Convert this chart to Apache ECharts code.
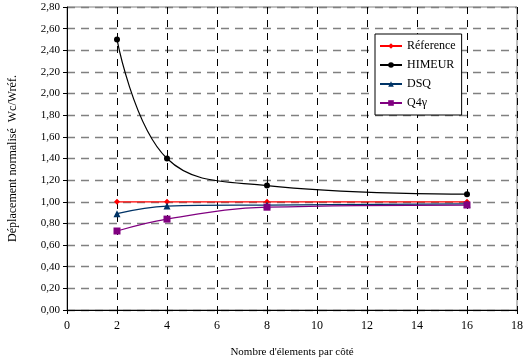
<!DOCTYPE html>
<html><head><meta charset="utf-8">
<script src="https://cdn.jsdelivr.net/npm/echarts@6/dist/echarts.min.js"></script>
<style>html,body{margin:0;padding:0;background:#fff}#c{width:526px;height:364px}</style>
</head><body><div id="c"></div>
<script>
const xValues = [2, 4, 8, 16];
const reference = [1.00, 1.00, 1.00, 1.00];
const himeur = [2.50, 1.40, 1.15, 1.07];
const dsq = [0.89, 0.96, 0.97, 0.98];
const q4g = [0.73, 0.84, 0.95, 0.97];
const seriesNames = ['Réference', 'HIMEUR', 'DSQ', 'Q4γ'];

const font = 'Liberation Serif';
function pts(v){ return xValues.map((x,i)=>[x, v[i]]); }
const chart = echarts.init(document.getElementById('c'));
function mk(name, data, color, symbol, size){
  return {name, type:'line', data: pts(data), smooth: 0.4, symbol, symbolSize: size,
    lineStyle:{color, width:1.2}, itemStyle:{color}, emphasis:{disabled:true}};
}
chart.setOption({
  animation:false,
  textStyle:{fontFamily:font},
  grid:{left:67, right:9, top:7, bottom:54, show:true, borderColor:'#808080', borderWidth:1,
    outerBoundsMode:'none', containLabel:false},
  legend:{
    orient:'vertical', left:375, top:34, itemWidth:22, itemHeight:7, itemGap:7,
    backgroundColor:'#fff', borderColor:'#000', borderWidth:1, padding:[6,6,6,4],
    textStyle:{fontFamily:font, fontSize:12, color:'#000'},
    data: seriesNames.map(n=>({name:n}))
  },
  xAxis:{
    type:'value', min:0, max:18, interval:2,
    name:"Nombre d'élements par côté", nameLocation:'middle', nameGap:37,
    nameTextStyle:{fontFamily:font, fontSize:11, color:'#000'},
    axisLine:{onZero:false, lineStyle:{color:'#000'}},
    axisTick:{show:true, length:4, lineStyle:{color:'#000'}},
    axisLabel:{fontFamily:font, fontSize:12, color:'#000', margin:10},
    splitLine:{show:true, lineStyle:{color:'#000', type:[7,6], width:1}}
  },
  yAxis:{
    type:'value', min:0, max:2.8, interval:0.2,
    name:'Déplacement normalisé  Wc/Wréf.', nameLocation:'middle', nameGap:48,
    nameTextStyle:{fontFamily:font, fontSize:12, color:'#000'},
    axisLine:{show:true, lineStyle:{color:'#000'}},
    axisTick:{show:true, length:4, lineStyle:{color:'#000'}},
    axisLabel:{fontFamily:font, fontSize:11, color:'#000', margin:7,
      formatter:v=>v.toFixed(2).replace('.',',')},
    splitLine:{show:true, lineStyle:{color:'#808080', type:[8,6], width:1.3}}
  },
  series:[
    mk(seriesNames[0], reference, '#ff0000', 'diamond', 6),
    mk(seriesNames[1], himeur, '#000000', 'circle', 6),
    mk(seriesNames[2], dsq, '#003366', 'triangle', 7),
    mk(seriesNames[3], q4g, '#800080', 'rect', 7)
  ]
});
</script></body></html>
